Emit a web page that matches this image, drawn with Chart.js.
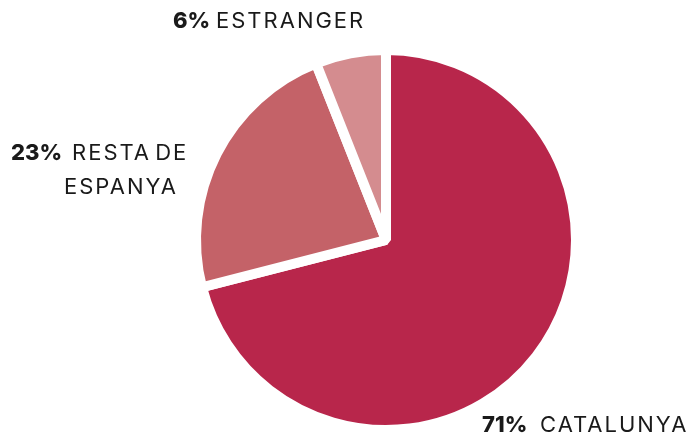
<!DOCTYPE html>
<html>
<head>
<meta charset="utf-8">
<script src="https://cdn.jsdelivr.net/npm/chart.js@4/dist/chart.umd.min.js"></script>
<style>
  html, body { margin: 0; padding: 0; background: #fff; }
  #wrap { position: relative; width: 692px; height: 436px; }
  #pie { position: absolute; left: 0; top: 0; }
  .lbl {
    position: absolute;
    font-family: Inter, Lato, sans-serif;
    font-size: 22px;
    line-height: 22px;
    color: #1a1a1a;
    white-space: nowrap;
  }
  .num { font-weight: 800; }
  .name { letter-spacing: 2px; word-spacing: -4px; }
</style>
</head>
<body>
<div id="wrap">
  <canvas id="pie" width="692" height="436"></canvas>
  <div class="lbl num"  id="numEst"  style="left:173px; top:9px;"></div>
  <div class="lbl name" id="nameEst" style="left:216px; top:9px;"></div>
  <div class="lbl num"  id="numRes"  style="left:11px; top:141px;"></div>
  <div class="lbl name" id="nameRes" style="left:72px; top:141px;"></div>
  <div class="lbl name" id="nameRes2" style="left:64px; top:175px;"></div>
  <div class="lbl num"  id="numCat"  style="left:482px; top:413px;"></div>
  <div class="lbl name" id="nameCat" style="left:540px; top:413px;"></div>
</div>
<script>
const categories = ['CATALUNYA', 'RESTA DE ESPANYA', 'ESTRANGER'];
const shares     = [71, 23, 6];
const colors     = ['#B8264B', '#C46268', '#D48C8F'];

// labels built from the data arrays
const resWords = categories[1].split(' ');
document.getElementById('numCat').textContent   = shares[0] + '%';
document.getElementById('nameCat').textContent  = categories[0];
document.getElementById('numRes').textContent   = shares[1] + '%';
document.getElementById('nameRes').textContent  = resWords.slice(0, 2).join(' ');
document.getElementById('nameRes2').textContent = resWords.slice(2).join(' ');
document.getElementById('numEst').textContent   = shares[2] + '%';
document.getElementById('nameEst').textContent  = categories[2];

new Chart(document.getElementById('pie').getContext('2d'), {
    type: 'pie',
    data: {
        labels: categories,
        datasets: [{
            data: shares,
            backgroundColor: colors,
            borderColor: '#ffffff',
            borderWidth: 10
        }]
    },
    options: {
        responsive: false,
        animation: false,
        layout: { padding: { left: 191, right: 111, top: 45, bottom: 1 } },
        plugins: {
            legend: { display: false },
            tooltip: { enabled: false }
        }
    }
});
</script>
</body>
</html>
